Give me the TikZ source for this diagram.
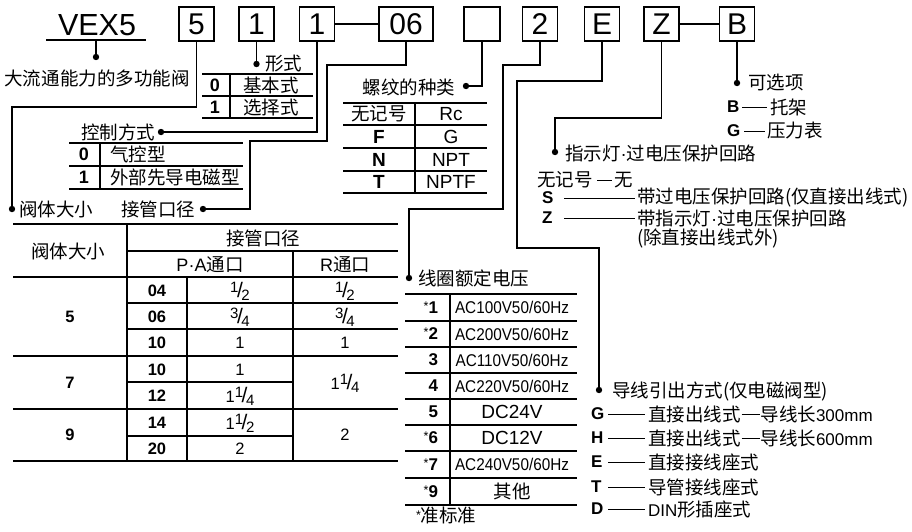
\documentclass[tikz,border=0pt]{standalone}
\usepackage{fontspec}
\setmainfont{Liberation Sans}
\newfontfamily\cjk{Noto Sans CJK SC}
\usepackage{graphicx}
\newcommand\fs[1]{\fontsize{#1}{#1}\selectfont}
\newcommand\myfr[2]{\raisebox{4.5pt}{\fs{15}#1}\kern-1.5pt{\fs{21}/}\kern-1.5pt\raisebox{-3pt}{\fs{15}#2}}
\newcommand\myast{\raisebox{3pt}{\fs{12.5}\mdseries*}}
\newcommand\mydot{{\normalfont\fs{18.5}·}}
\newcommand\mydash{\kern1pt\rule[6.5pt]{18pt}{0.9pt}\kern1pt}
\newcommand\myac[1]{\scalebox{0.9}[1]{\fs{17}#1}}
\tikzset{
  every node/.style={inner sep=0pt, outer sep=0pt},
  ln/.style={line width=1.1pt, line cap=rect},
  tl/.style={line width=1.1pt},
  dl/.style={line width=0.9pt},
  codebox/.style={draw, line width=1.1pt, minimum width=35pt, minimum height=34pt, font=\fs{30}},
  zh/.style={font=\fs{18.5}\cjk},
  bnum/.style={font=\fs{18}\bfseries},
  tnum/.style={font=\fs{16.5}\bfseries},
  rnum/.style={font=\fs{16.5}},
  lat/.style={font=\fs{19}},
  blet/.style={font=\fs{17}\bfseries},
}
\begin{document}
\begin{tikzpicture}[x=1pt,y=-1pt]
\useasboundingbox (0,0) rectangle (912,531);

% ---------- code row ----------
\node[font=\fs{30.5}] (vex) at (97,25) {VEX5};
\coordinate (vexu) at (96,40);
\draw[ln] (47,40) -- (145,40);
\node[codebox] (b5) at (196.5,24) {5};
\node[codebox] (b1a) at (256.5,24) {1};
\node[codebox] (b1b) at (317,24) {1};
\node[codebox, minimum width=54pt] (b06) at (406,24) {06};
\node[codebox, minimum width=36pt] (bth) at (482,24) {};
\node[codebox] (b2) at (540,24) {2};
\node[codebox] (bE) at (602,24) {E};
\node[codebox] (bZ) at (661.5,24) {Z};
\node[codebox] (bB) at (737,24) {B};
\draw[ln] (b1b) -- (b06);
\draw[ln] (bZ) -- (bB);

% ---------- VEX5 ----------
\coordinate (d0) at (96,57);
\draw[ln] (vexu) -- (d0);
\fill (d0) circle (3.2pt);
\node[zh] (t0) at (97,78) {大流通能力的多功能阀};

% ---------- 形式 ----------
\coordinate (d1) at (256.5,64);
\draw[ln] (b1a.south) -- (d1);
\fill (d1) circle (3.2pt);
\node[zh, anchor=west] (t1) at (265,64) {形式};
\foreach \yy in {74,96,118} \draw[tl] (202,\yy) -- (313,\yy);
\draw[tl] (230,74) -- (230,118);
\node[bnum] at (215,85) {0};
\node[zh] at (271,85) {基本式};
\node[bnum] at (215,107) {1};
\node[zh] at (271,107) {选择式};

% ---------- 控制方式 ----------
\coordinate (d2) at (161,132);
\draw[ln] (b1b.south) |- (d2);
\fill (d2) circle (3.2pt);
\node[zh, anchor=east] (t2) at (155,132) {控制方式};
\foreach \yy in {143,166,189} \draw[tl] (69,\yy) -- (243,\yy);
\draw[tl] (100,143) -- (100,189);
\node[bnum] at (84,154.5) {0};
\node[zh, anchor=west] at (110,154.5) {气控型};
\node[bnum] at (84,177.5) {1};
\node[zh, anchor=west] at (110,177.5) {外部先导电磁型};

% ---------- 接管口径 ----------
\coordinate (d3) at (203,209);
\draw[ln] (b06.south) -- ++(0,24) -| (327,141) -| (250,209) -- (d3);
\fill (d3) circle (3.2pt);
\node[zh, anchor=east] (t3) at (195,209) {接管口径};

% ---------- 阀体大小 ----------
\coordinate (d4) at (12,209);
\draw[ln] (b5.south) -- ++(0,66) -| (d4);
\fill (d4) circle (3.2pt);
\node[zh, anchor=west] (t4) at (19,209) {阀体大小};

% ---------- big table ----------
\foreach \yy in {224,277,356,409,461} \draw[tl] (13,\yy) -- (398,\yy);
\foreach \yy in {251,303,329} \draw[tl] (127,\yy) -- (398,\yy);
\foreach \yy in {382,436} \draw[tl] (127,\yy) -- (293,\yy);
\draw[tl] (127,224) -- (127,461);
\draw[tl] (293,251) -- (293,461);
\draw[tl] (187,277) -- (187,461);
\node[zh] at (68,251) {阀体大小};
\node[zh] at (263,238) {接管口径};
\node at (210,265) {\fs{18}P·A{\cjk\fs{18.5}通口}};
\node at (345,265) {\fs{18}R{\cjk\fs{18.5}通口}};
\node[tnum] at (70,316.5) {5};
\node[tnum] at (70,382.5) {7};
\node[tnum] at (70,435) {9};
\node[tnum] at (157,291) {04};
\node[tnum] at (157,317) {06};
\node[tnum] at (157,343) {10};
\node[tnum] at (157,369.5) {10};
\node[tnum] at (157,396) {12};
\node[tnum] at (157,423) {14};
\node[tnum] at (157,449) {20};
\node[rnum] at (240,291) {\myfr12};
\node[rnum] at (240,317) {\myfr34};
\node[rnum] at (240,343) {1};
\node[rnum] at (240,369.5) {1};
\node[rnum] at (240,396) {1\myfr14};
\node[rnum] at (240,423) {1\myfr12};
\node[rnum] at (240,449) {2};
\node[rnum] at (345,291) {\myfr12};
\node[rnum] at (345,317) {\myfr34};
\node[rnum] at (345,343) {1};
\node[rnum] at (345,383) {1\myfr14};
\node[rnum] at (345,435) {2};

% ---------- 螺纹的种类 ----------
\coordinate (d5) at (466,86);
\draw[ln] (bth.south) |- (d5);
\fill (d5) circle (3.2pt);
\node[zh, anchor=east] (t5) at (455,87) {螺纹的种类};
\foreach \yy in {103,125,148,171,193} \draw[tl] (343,\yy) -- (487,\yy);
\draw[tl] (415,103) -- (415,193);
\node[zh] at (379,114) {无记号};
\node[lat] at (451,114) {Rc};
\node[lat, font=\fs{19}\bfseries] at (379,136.5) {F};
\node[lat] at (451,136.5) {G};
\node[lat, font=\fs{19}\bfseries] at (379,159.5) {N};
\node[lat] at (451,159.5) {NPT};
\node[lat, font=\fs{19}\bfseries] at (379,182) {T};
\node[lat] at (451,182) {NPTF};

% ---------- 线圈额定电压 ----------
\coordinate (d6) at (409,278);
\draw[ln] (b2.south) -- ++(0,24) -| (503,209) -| (d6);
\fill (d6) circle (3.2pt);
\node[zh, anchor=west] (t6) at (418,278) {线圈额定电压};
\foreach \yy in {294,321,347,373,399,425,451,478,505} \draw[tl] (405,\yy) -- (577,\yy);
\draw[tl] (450,294) -- (450,505);
\node[blet, anchor=east] at (438,307.5) {\myast1};
\node[blet, anchor=east] at (438,334) {\myast2};
\node[blet, anchor=east] at (438,360) {3};
\node[blet, anchor=east] at (438,386) {4};
\node[blet, anchor=east] at (438,412) {5};
\node[blet, anchor=east] at (438,438) {\myast6};
\node[blet, anchor=east] at (438,464.5) {\myast7};
\node[blet, anchor=east] at (438,491.5) {\myast9};
\node at (512,307.5) {\myac{AC100V50/60Hz}};
\node at (512,334) {\myac{AC200V50/60Hz}};
\node at (512,360) {\myac{AC110V50/60Hz}};
\node at (512,386) {\myac{AC220V50/60Hz}};
\node[lat] at (512,412) {DC24V};
\node[lat] at (512,438) {DC12V};
\node at (512,464.5) {\myac{AC240V50/60Hz}};
\node[zh] at (512,491.5) {其他};
\node[anchor=west] at (416,515) {\myast{\cjk\fs{18.5}准标准}};

% ---------- 导线引出方式 ----------
\coordinate (d7) at (599,390);
\draw[ln] (bE.south) -- ++(0,40) -| (517,248) -| (d7);
\fill (d7) circle (3.2pt);
\node[zh, anchor=west] (t7) at (612,391) {导线引出方式(仅电磁阀型)};
\foreach \nm/\lt/\yy/\tx in {G/G/414/{直接出线式\mydash 导线长{\normalfont\fs{17}300mm}},H/H/438/{直接出线式\mydash 导线长{\normalfont\fs{17}600mm}},E/E/462/{直接接线座式},T/T/487/{导管接线座式},D/D/509/{{\normalfont\fs{17}DIN}形插座式}}{
  \node[blet, anchor=west] (l\nm) at (591,\yy) {\lt};
  \node[zh, anchor=west] (w\nm) at (648,\yy) {\tx};
  \draw[dl] (608,\yy) -- (645,\yy);
}

% ---------- 指示灯 ----------
\coordinate (d8) at (555,152);
\draw[ln] (bZ.south) -- ++(0,77) -| (d8);
\fill (d8) circle (3.2pt);
\node[zh, anchor=west] (t8) at (565,153) {指示灯\mydot 过电压保护回路};
\node[zh, anchor=west] (nj) at (537,180) {无记号};
\node[zh, anchor=west] (nw) at (614,180) {无};
\draw[dl] (597,180) -- (612,180);
\node[blet, anchor=west] (lS) at (542,198) {S};
\node[zh, anchor=west] (wS) at (637,198) {带过电压保护回路(仅直接出线式)};
\draw[dl] (564,198) -- (635,198);
\node[blet, anchor=west] (lZ) at (542,218) {Z};
\node[zh, anchor=west] (wZ) at (637,218) {带指示灯\mydot 过电压保护回路};
\draw[dl] (564,218) -- (635,218);
\node[zh, anchor=west] (wZ2) at (637,238) {(除直接出线式外)};

% ---------- 可选项 ----------
\coordinate (d9) at (737,83);
\draw[ln] (bB.south) -- (d9);
\fill (d9) circle (3.2pt);
\node[zh, anchor=west] (t9) at (748,83) {可选项};
\node[blet, anchor=west] (lB) at (727,107) {B};
\node[zh, anchor=west] (wB) at (770,107) {托架};
\draw[dl] (742,107) -- (767,107);
\node[blet, anchor=west] (lG2) at (727,131) {G};
\node[zh, anchor=west] (wG2) at (767,131) {压力表};
\draw[dl] (744,131) -- (765,131);
\end{tikzpicture}
\end{document}
